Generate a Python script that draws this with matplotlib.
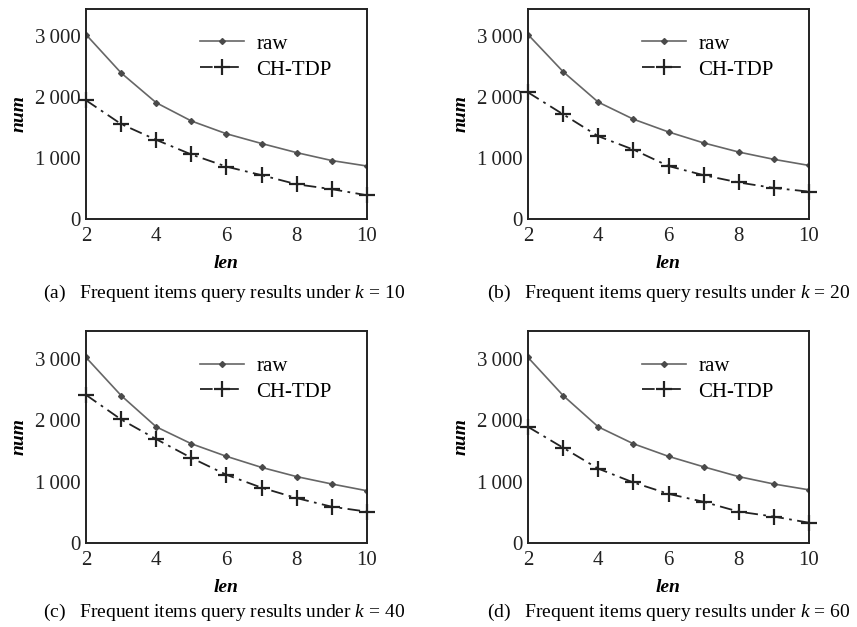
import matplotlib
matplotlib.use('Agg')
import matplotlib.pyplot as plt

plt.rcParams['font.family'] = ['Liberation Serif', 'DejaVu Serif']
plt.rcParams['mathtext.fontset'] = 'custom'
plt.rcParams['mathtext.it'] = 'Liberation Serif:italic'
plt.rcParams['mathtext.rm'] = 'Liberation Serif'

length = [2, 3, 4, 5, 6, 7, 8, 9, 10]

raw_k10 = [3030, 2400, 1910, 1610, 1400, 1240, 1090, 960, 870]
tdp_k10 = [1950, 1560, 1300, 1060, 860, 720, 570, 490, 390]

raw_k20 = [3030, 2420, 1920, 1640, 1430, 1250, 1100, 980, 880]
tdp_k20 = [2080, 1720, 1360, 1140, 870, 720, 600, 510, 450]

raw_k40 = [3020, 2400, 1890, 1615, 1410, 1230, 1080, 960, 850]
tdp_k40 = [2410, 2010, 1690, 1385, 1110, 900, 730, 590, 510]

raw_k60 = [3020, 2400, 1890, 1615, 1410, 1240, 1080, 960, 865]
tdp_k60 = [1890, 1550, 1210, 985, 800, 670, 510, 430, 330]

k_values = [10, 20, 40, 60]
letters = ['a', 'b', 'c', 'd']
yticks = [0, 1000, 2000, 3000]
ytick_labels = ['0', '1\u2009000', '2\u2009000', '3\u2009000']

panels = [(raw_k10, tdp_k10), (raw_k20, tdp_k20), (raw_k40, tdp_k40), (raw_k60, tdp_k60)]

W, H = 857, 627
fig = plt.figure(figsize=(W / 100, H / 100), dpi=100)

# axes boxes in pixels: left, top, right, bottom
boxes = [(86, 9, 367, 219), (528, 9, 809, 219), (86, 331, 367, 543), (528, 331, 809, 543)]
caption_x = [43, 487, 43, 487]
caption_y = [293, 293, 612, 612]

for i, (raw, tdp) in enumerate(panels):
    l, t, r, b = boxes[i]
    ax = fig.add_axes([l / W, 1 - b / H, (r - l) / W, (b - t) / H])
    ax.plot(length, raw, color='#666666', lw=1.2, marker='D', ms=3,
            mfc='#4a4a4a', mec='#4a4a4a', label='raw')
    ax.plot(length, tdp, color='#222222', lw=1.3, ls=(0, (7, 3, 1.5, 3)),
            marker='+', ms=11, mew=1.6, label='CH-TDP', clip_on=False)
    ax.set_xlim(2, 10)
    ax.set_ylim(0, 3450)
    ax.set_xticks([2, 4, 6, 8, 10])
    ax.set_yticks(yticks)
    ax.set_yticklabels(ytick_labels)
    ax.tick_params(length=0, labelsize=15, pad=4, colors='#222222')
    ax.tick_params(axis='x', pad=6)
    for s in ax.spines.values():
        s.set_linewidth(1.4)
        s.set_color('#222222')
    ax.set_xlabel('len', fontsize=14, style='italic', fontweight='bold', labelpad=6)
    ax.set_ylabel('num', fontsize=14, style='italic', fontweight='bold', labelpad=5)
    ax.legend(loc='upper left', bbox_to_anchor=(0.362, 0.94), frameon=False,
              fontsize=15, handlelength=2.1, handletextpad=0.6, labelspacing=0.3,
              borderaxespad=0.2)
    fig.text(caption_x[i] / W, 1 - caption_y[i] / H,
             '(%s)   Frequent items query results under $k$ = %d' % (letters[i], k_values[i]),
             fontsize=14, va='center', ha='left')

fig.savefig('out.png', dpi=100)
